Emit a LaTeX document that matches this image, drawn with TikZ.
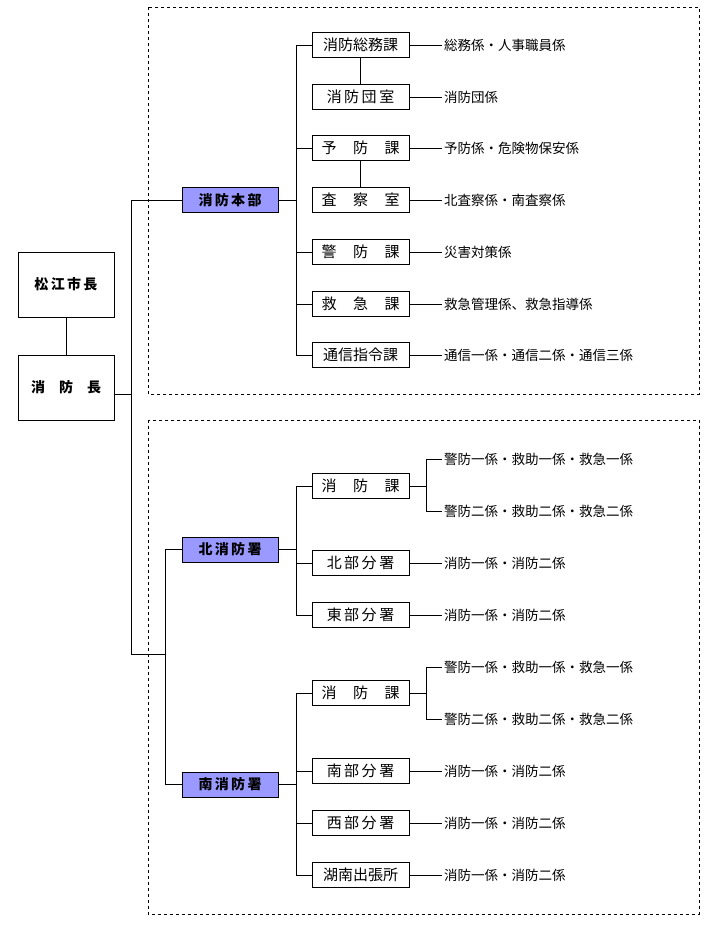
\documentclass[tikz,border=0pt]{standalone}
\usepackage{fontspec}
\setmainfont{Noto Sans CJK JP}
\begin{document}
\begin{tikzpicture}[x=1pt,y=-1pt,font=\fontsize{13.5}{15}\selectfont,
 sub/.style={draw,line width=0.8pt,minimum width=97pt,minimum height=25pt,inner sep=0pt,font=\fontsize{15}{16}\selectfont},
 top/.style={draw,line width=0.8pt,minimum width=96pt,minimum height=65pt,inner sep=0pt,font=\fontsize{14}{15}\selectfont\bfseries},
 dept/.style={draw,line width=0.8pt,fill=blue!40!white,minimum width=96pt,minimum height=25pt,inner sep=0pt,font=\fontsize{14}{15}\selectfont\bfseries},
 lab/.style={anchor=west,inner sep=2pt},
 ln/.style={line width=0.7pt},
 box/.style={draw,dashed,line width=0.5pt}]
\useasboundingbox (0,0) rectangle (713,932);
\fill[white] (0,0) rectangle (713,932);
\draw[box] (148,7) rectangle (699,394);
\draw[box] (148,420) rectangle (699,914);
\node[top] (mayor) at (66,284.5) {松\,江\,市\,長};
\node[top] (chief) at (66,387.5) {消\hspace{1em}防\hspace{1em}長};
\draw[ln] (mayor) -- (chief);
\node[dept] (hq) at (230,200) {消\,防\,本\,部};
\node[dept] (north) at (230,549.5) {北\,消\,防\,署};
\node[dept] (south) at (230,784.5) {南\,消\,防\,署};
\coordinate (c1) at (131,394);
\draw[ln] (chief.east |- c1) -- (c1) -- (131,200) -- (hq.west);
\draw[ln] (c1) -- (131,654) -- (165,654);
\draw[ln] (165,549.5) -- (north.west);
\draw[ln] (165,784.5) -- (south.west);
\draw[ln] (165,549.5) -- (165,784.5);
% HQ
\foreach \n/\y/\t/\l in {a/45/消防総務課/総務係・人事職員係, b/97/消\,防\,団\,室/消防団係, c/148/予\hspace{1.1em}防\hspace{1.1em}課/予防係・危険物保安係, d/200/査\hspace{1.1em}察\hspace{1.1em}室/北査察係・南査察係, e/252/警\hspace{1.1em}防\hspace{1.1em}課/災害対策係, f/304/救\hspace{1.1em}急\hspace{1.1em}課/救急管理係、救急指導係, g/355/通信指令課/通信一係・通信二係・通信三係}{
 \node[sub] (h\n) at (360.5,\y) {\t};
 \node[lab] (hl\n) at (442,\y) {\l};
 \draw[ln] (h\n.east) -- (hl\n.west);
}
\draw[ln] (ha) -- (hb); \draw[ln] (hc) -- (hd);
\draw[ln] (hq.east) -- (296,200);
\draw[ln] (296,45) -- (296,355);
\foreach \n in {a,c,e,f,g} \draw[ln] (296,0 |- h\n.west) -- (h\n.west);
% North
\node[sub] (n1) at (360.5,486) {消\hspace{1.1em}防\hspace{1.1em}課};
\node[sub] (n2) at (360.5,563) {北\,部\,分\,署};
\node[sub] (n3) at (360.5,615) {東\,部\,分\,署};
\draw[ln] (north.east) -- (296,549.5);
\draw[ln] (296,486) -- (296,615);
\foreach \n in {n1,n2,n3} \draw[ln] (296,0 |- \n.west) -- (\n.west);
\node[lab] (n1a) at (442,459) {警防一係・救助一係・救急一係};
\node[lab] (n1b) at (442,511) {警防二係・救助二係・救急二係};
\draw[ln] (n1.east) -- (426,486);
\draw[ln] (n1a.west) -- (426,459) -- (426,511) -- (n1b.west);
\node[lab] (n2a) at (442,563) {消防一係・消防二係};
\node[lab] (n3a) at (442,615) {消防一係・消防二係};
\draw[ln] (n2) -- (n2a); \draw[ln] (n3) -- (n3a);
% South
\node[sub] (s1) at (360.5,693) {消\hspace{1.1em}防\hspace{1.1em}課};
\node[sub] (s2) at (360.5,771) {南\,部\,分\,署};
\node[sub] (s3) at (360.5,823) {西\,部\,分\,署};
\node[sub] (s4) at (360.5,875) {湖南出張所};
\draw[ln] (south.east) -- (296,784.5);
\draw[ln] (296,693) -- (296,875);
\foreach \n in {s1,s2,s3,s4} \draw[ln] (296,0 |- \n.west) -- (\n.west);
\node[lab] (s1a) at (442,667) {警防一係・救助一係・救急一係};
\node[lab] (s1b) at (442,719) {警防二係・救助二係・救急二係};
\draw[ln] (s1.east) -- (426,693);
\draw[ln] (s1a.west) -- (426,667) -- (426,719) -- (s1b.west);
\foreach \n in {2,3,4}{
 \node[lab] (s\n a) at (442,0 |- s\n.east) {消防一係・消防二係};
 \draw[ln] (s\n) -- (s\n a);
}
\end{tikzpicture}
\end{document}
